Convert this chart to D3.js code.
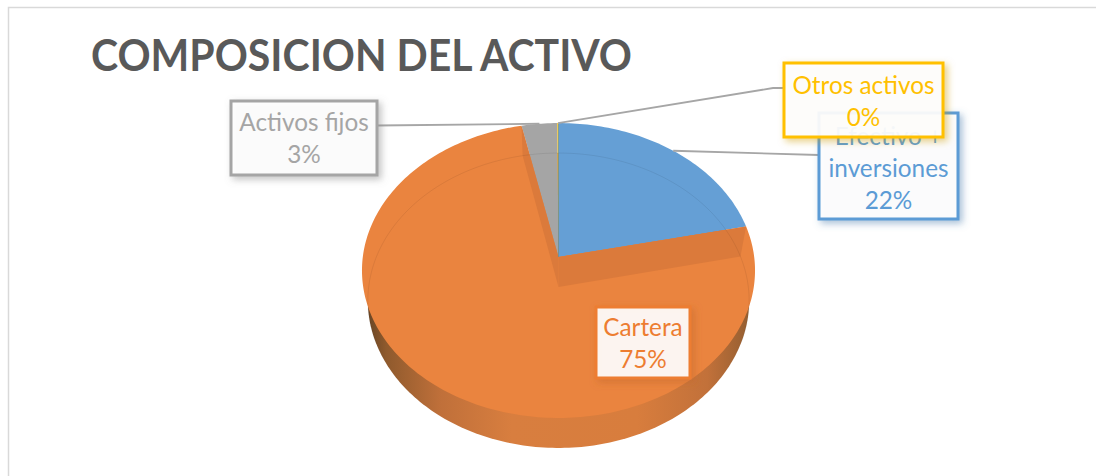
<!DOCTYPE html>
<html>
<head>
<meta charset="utf-8">
<style>
    html, body { margin: 0; padding: 0; background: #fff; overflow: hidden; }
    svg { display: block; }
    text { font-family: Lato, "Open Sans", sans-serif; }
</style>
<script src="https://cdn.jsdelivr.net/npm/d3@7"></script>
</head>
<body>
<script>
(function(){

var chartTitle = "COMPOSICION DEL ACTIVO";
var categories = ["Efectivo + inversiones", "Cartera", "Activos fijos", "Otros activos"];
var values = [21.6, 75.1, 3.2, 0.1];
var labelLines = [["Efectivo +", "inversiones"], ["Cartera"], ["Activos fijos"], ["Otros activos"]];
var colors = ["#659fd5", "#ea843f", "#a5a5a5", "#ffc000"];
var labelColors = ["#5b9bd5", "#ed7d31", "#a5a5a5", "#ffc000"];

//label boxes, in page pixels
var boxes = [
    {x: 819, y: 113, w: 139, h: 106, firstY: 145},
    {x: 596, y: 307, w: 94, h: 71, firstY: 336},
    {x: 231, y: 101, w: 146, h: 74, firstY: 131},
    {x: 784, y: 63, w: 159, h: 74, firstY: 94}
];

var width = 1096,
    height = 476;

//pie geometry: the disc is drawn in perspective, so the centre sits above the ellipse middle
var apexX = 558.5,
    apexY = 257,
    radiusX = 195.7,
    radiusY = 122.7,
    persp = 0.0915,
    depth = 30,
    bottomScale = 0.97;

var svg = d3.select("body")
    .append("svg")
    .attr("width", width)
    .attr("height", height);

var defs = svg.append("defs");

//soft shadow tinted with the series colour
labelColors.forEach(function(c, i){
    var shadow = defs.append("filter")
        .attr("id", "boxShadow" + i)
        .attr("x", "-20%").attr("y", "-20%")
        .attr("width", "150%").attr("height", "150%");
    shadow.append("feDropShadow")
        .attr("dx", 3).attr("dy", 3)
        .attr("stdDeviation", 3.5)
        .attr("flood-color", d3.color(c).darker(0.6))
        .attr("flood-opacity", 0.5);
});

var wallGrad = defs.append("linearGradient")
    .attr("id", "wallGrad")
    .attr("gradientUnits", "userSpaceOnUse")
    .attr("x1", apexX - radiusX).attr("x2", apexX + radiusX)
    .attr("y1", 0).attr("y2", 0);
[[0, "#5f4023"], [0.06, "#8f5a2d"], [0.2, "#c0703a"], [0.38, "#d87e3f"],
 [0.7, "#d87d3d"], [0.88, "#c2713a"], [1, "#8f5c30"]].forEach(function(s){
    wallGrad.append("stop").attr("offset", s[0]).attr("stop-color", s[1]);
});

//project an angle (clockwise from the top) and a distance from the centre to the page
function project(angle, r, lower) {
    var u = Math.sin(angle) * r,
        v = Math.cos(angle) * r,
        w = 1 + persp * v,
        scale = lower ? bottomScale : 1;
    return [
        apexX + radiusX * scale * u / w,
        (apexY - radiusY * v) / w + (lower ? depth : 0)
    ];
}

function rimPoints(start, end, lower) {
    var steps = Math.max(2, Math.ceil((end - start) / 0.02));
    var angle = d3.scaleLinear().domain([0, steps]).range([start, end]);
    return d3.range(steps + 1).map(function(i){
        return project(angle(i), 1, lower);
    });
}

var line = d3.line();

var arcs = d3.pie().sort(null)(values);

//frame
svg.append("rect")
    .attr("x", 8.5).attr("y", 7.5)
    .attr("width", 1200).attr("height", 600)
    .attr("fill", "#fff")
    .attr("stroke", "#d9d9d9")
    .attr("stroke-width", 1.5);

svg.append("text")
    .attr("x", 91)
    .attr("y", 70.5)
    .attr("font-size", 44)
    .attr("font-weight", 700)
    .attr("fill", "#595959")
    .attr("textLength", 541)
    .attr("lengthAdjust", "spacingAndGlyphs")
    .text(chartTitle);

//side wall of the pie
svg.append("path")
    .attr("d", line(rimPoints(0, 2 * Math.PI, true)) + "Z")
    .attr("fill", "url(#wallGrad)");

//top face
svg.selectAll(".slice")
    .data(arcs)
    .enter()
    .append("path")
    .attr("class", "slice")
    .attr("d", function(d){
        return line([[apexX, apexY]].concat(rimPoints(d.startAngle, d.endAngle, false))) + "Z";
    })
    .attr("fill", function(d, i){ return colors[i]; });

//inner walls of the big slice, seen through the others
var cartera = arcs[1];
[cartera.startAngle, cartera.endAngle].forEach(function(a){
    var rimTop = project(a, 1, false),
        rimLow = project(a, 1, true);
    svg.append("path")
        .attr("d", line([[apexX, apexY], rimTop, rimLow, [apexX, apexY + depth]]) + "Z")
        .attr("fill", "#db7a3b");
});

//faint back rim of the lower disc, shows through the top face
svg.append("path")
    .attr("d", line(rimPoints(-Math.PI * 0.62, Math.PI * 0.62, true)))
    .attr("fill", "none")
    .attr("stroke", "#000")
    .attr("stroke-opacity", 0.07);

//thin slice edge
svg.append("path")
    .attr("d", line([[apexX, apexY], project(arcs[3].endAngle, 1, false)]))
    .attr("stroke", "#5f8f9a")
    .attr("stroke-opacity", 0.7)
    .attr("stroke-width", 1);

//leader lines
var elbows = [null, null, null, [773, 88]];
boxes.forEach(function(b, i){
    if (i == 1) return; //Cartera sits on its slice
    var mid = (arcs[i].startAngle + arcs[i].endAngle) / 2;
    var start = project(mid, 1, false);
    var boxY = i == 0 ? 155 : (i == 2 ? 125.5 : 88);
    var end = [i == 2 ? b.x + b.w : b.x, boxY];
    var pts = elbows[i] ? [start, elbows[i], end] : [start, end];
    svg.append("path")
        .attr("d", line(pts))
        .attr("fill", "none")
        .attr("stroke", "#a6a6a6")
        .attr("stroke-width", 1.8);
});

//data labels
var labels = svg.selectAll(".label")
    .data(arcs)
    .enter()
    .append("g")
    .attr("class", "label");

labels.append("rect")
    .attr("x", function(d, i){ return boxes[i].x; })
    .attr("y", function(d, i){ return boxes[i].y; })
    .attr("width", function(d, i){ return boxes[i].w; })
    .attr("height", function(d, i){ return boxes[i].h; })
    .attr("fill", "#fff")
    .attr("fill-opacity", 0.9)
    .attr("stroke", function(d, i){ return labelColors[i]; })
    .attr("stroke-width", 3)
    .attr("filter", function(d, i){ return "url(#boxShadow" + i + ")"; });

labels.each(function(d, i){
    var b = boxes[i];
    var rows = labelLines[i].concat(d3.format(".0f")(values[i]) + "%");
    var rowH = 32;
    d3.select(this).selectAll("text")
        .data(rows)
        .enter()
        .append("text")
        .attr("x", b.x + b.w / 2)
        .attr("y", function(r, j){ return b.firstY + j * rowH; })
        .attr("text-anchor", "middle")
        .attr("font-size", 24.3)
        .attr("fill", labelColors[i])
        .text(function(r){ return r; });
});

})();
</script>
</body>
</html>
